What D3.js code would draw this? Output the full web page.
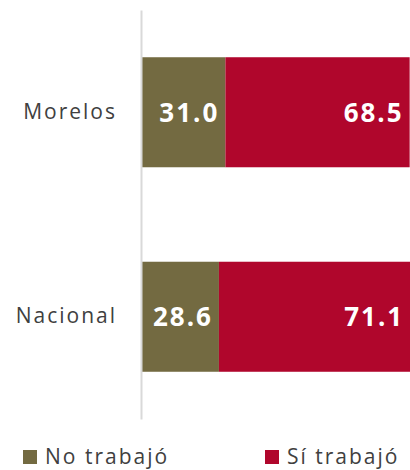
<!DOCTYPE html>
<html>
<head>
<meta charset="utf-8">
<script src="https://cdn.jsdelivr.net/npm/d3@7"></script>
<style>
  html, body { margin: 0; padding: 0; background: #ffffff; }
  svg { display: block; }
</style>
</head>
<body>
<div id="chart"></div>
<script>
const categories = ["Morelos", "Nacional"];
const seriesNames = ["No trabajó", "Sí trabajó"];
const noTrabajo = [31.0, 28.6];
const siTrabajo = [68.5, 71.1];
const colors = ["#736a41", "#b0062c"];

const W = 410, H = 470;
const svg = d3.select("#chart").append("svg").attr("width", W).attr("height", H);

const x = d3.scaleLinear().domain([0, 100]).range([142, 411]);
const y = d3.scaleBand().domain(categories).range([10, 419])
  .paddingInner(0.462).paddingOuter(0.231);

const rows = categories.map((c, i) => ({ cat: c, vals: [noTrabajo[i], siTrabajo[i]] }));

rows.forEach(r => {
  let acc = 0;
  r.vals.forEach((v, k) => {
    const x0 = x(acc), x1 = x(acc + v);
    svg.append("rect")
      .attr("x", x0).attr("y", y(r.cat))
      .attr("width", x1 - x0).attr("height", y.bandwidth())
      .attr("fill", colors[k]);
    svg.append("text")
      .attr("x", x1 - 6).attr("y", y(r.cat) + y.bandwidth() / 2)
      .attr("dy", "0.36em")
      .attr("text-anchor", "end")
      .attr("fill", "#ffffff")
      .style("font-family", "'Open Sans', sans-serif")
      .style("font-weight", "bold")
      .style("font-size", "26px")
      .style("letter-spacing", "2px")
      .text(v.toFixed(1));
    acc += v;
  });
});

const axis = d3.axisLeft(y).tickSize(0).tickPadding(24);
const gA = svg.append("g").attr("transform", "translate(141,0)").call(axis);
gA.select(".domain").attr("stroke", "#d9d9d9").attr("stroke-width", 2);
gA.selectAll("text")
  .attr("fill", "#404040")
  .style("font-family", "'Open Sans', sans-serif")
  .style("font-size", "21px")
  .style("letter-spacing", "2px");

const legendX = [23, 265];
seriesNames.forEach((n, k) => {
  svg.append("rect").attr("x", legendX[k]).attr("y", 450).attr("width", 14).attr("height", 14)
    .attr("fill", colors[k]);
  svg.append("text").attr("x", legendX[k] + 22).attr("y", 464)
    .attr("fill", "#404040")
    .style("font-family", "'Open Sans', sans-serif")
    .style("font-size", "21px")
    .style("letter-spacing", "2px")
    .text(n);
});
</script>
</body>
</html>
